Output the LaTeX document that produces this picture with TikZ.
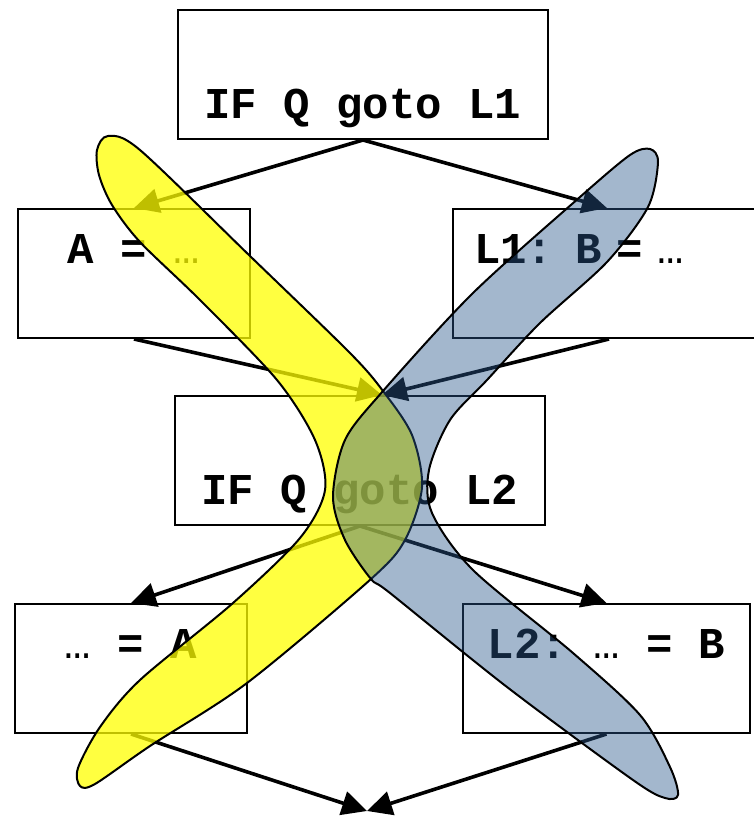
\documentclass[tikz,border=0pt]{standalone}
\usepackage{fontspec}
\setmonofont{Liberation Mono}
\usepackage{xcolor}
\usepackage{tikz}
\usetikzlibrary{arrows.meta,positioning,calc}
\definecolor{liveyellow}{RGB}{255,255,0}
\definecolor{liveblue}{RGB}{42,88,140}

\begin{document}
\begin{tikzpicture}[x=0.5pt, y=-0.5pt,
  cfgbox/.style={draw, line width=1pt, inner xsep=0pt, inner ysep=0pt,
    font=\ttfamily\bfseries\fontsize{22}{26}\selectfont},
  condbox/.style={cfgbox, text height=54pt, text depth=10.5pt},
  stmtbox/.style={cfgbox, text height=27pt, text depth=37.5pt},
  edge/.style={-{Triangle[length=12.5pt,width=12pt]}, line width=1.8pt},
  web/.style={draw=black, line width=1pt}]
\clip (0,0) rectangle (754,816);

% blocks
\node[condbox, minimum width=185pt, anchor=base] (ifone) at (363,118) {IF Q goto L1};
\node[stmtbox, minimum width=116pt, anchor=base] (defa) at (134,263) {A = {\mdseries …}};
\node[stmtbox, text width=150pt, inner xsep=10.5pt, align=left, anchor=base west] (defb) at (452,263) {L1: B = {\mdseries …}};
\node[condbox, minimum width=185pt, anchor=base] (iftwo) at (360,504) {IF Q goto L2};
\node[stmtbox, minimum width=116pt, anchor=base] (usea) at (131,658) {{\mdseries …} = A};
\node[stmtbox, minimum width=143.5pt, anchor=base] (useb) at (606.5,658) {L2: {\mdseries …} = B};
\coordinate (join) at (367,811);

% control flow
\draw[edge] (ifone.south) -- (defa.north);
\draw[edge] (ifone.south) -- ([xshift=77.5pt]defb.north west);
\draw[edge] (defa.south) -- ([xshift=11pt]iftwo.north);
\draw[edge] ([xshift=78.5pt]defb.south west) -- ([xshift=11pt]iftwo.north);
\draw[edge] (iftwo.south) -- (usea.north);
\draw[edge] (iftwo.south) -- (useb.north);
\draw[edge] (usea.south) -- (join);
\draw[edge] (useb.south) -- (join);

% live range of A
\filldraw[web, fill=liveyellow, fill opacity=0.75] plot[smooth cycle] coordinates {
  (108,136) (140,150) (250,256) (350,353) (383,391) (412,435) (422,487)
  (405,540) (371,579) (247,683) (150,746) (95,784) (80,786) (78,768)
  (100,727) (140,680) (233,603) (300,538) (325,490) (315,440) (277,380)
  (200,300) (140,242) (112,205) (99,175) (97,150)};

% live range of B
\filldraw[web, fill=liveblue, fill opacity=0.43] plot[smooth cycle] coordinates {
  (650,149) (658,162) (648,207) (607,262) (540,323) (487,380) (450,420)
  (429,470) (432,513) (473,570) (573,653) (640,715) (670,767) (678,795)
  (665,798) (633,780) (507,687) (390,593) (371,579) (345,540) (333,497)
  (345,440) (383,391) (473,293) (580,197) (630,155)};
\end{tikzpicture}
\end{document}
